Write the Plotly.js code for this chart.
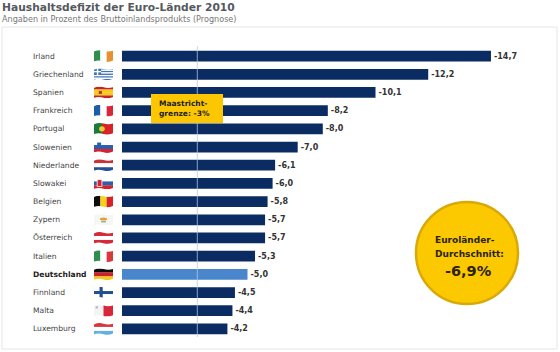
<!DOCTYPE html>
<html><head><meta charset="utf-8">
<script src="https://cdn.plot.ly/plotly-3.0.1.min.js"></script>
<style>html,body{margin:0;padding:0;background:#fff}#c{width:560px;height:352px}</style>
</head><body><div id="c"></div>
<script>
const countries=["Irland","Griechenland","Spanien","Frankreich","Portugal","Slowenien","Niederlande","Slowakei","Belgien","Zypern","Österreich","Italien","Deutschland","Finnland","Malta","Luxemburg"];
const deficits=[-14.7,-12.2,-10.1,-8.2,-8.0,-7.0,-6.1,-6.0,-5.8,-5.7,-5.7,-5.3,-5.0,-4.5,-4.4,-4.2];
const highlighted="Deutschland";
const maastricht=-3;
const titleText="Haushaltsdefizit der Euro-Länder 2010";
const subtitleText="Angaben in Prozent des Bruttoinlandsprodukts (Prognose)";
const calloutText="Maastricht-<br>grenze: -3%";
const badgeLine1="Euroländer-";
const badgeLine2="Durchschnitt:";
const badgeValue="-6,9%";

const W=560,H=352,m={l:122,r:3,t:47,b:14};
const px=x=>(x-m.l)/(W-m.l-m.r), py=y=>1-(y-m.t)/(H-m.t-m.b);
const pxPerUnit=25.1;

function bands(cols,vertical){
  let s='';const n=cols.length;
  cols.forEach((c,i)=>{s+=vertical?`<rect x="${i*24/n}" y="0" width="${24/n+.2}" height="16" fill="${c}"/>`:`<rect x="0" y="${i*16/n}" width="24" height="${16/n+.2}" fill="${c}"/>`});
  return s;
}
const flagSvg={
 "Irland":bands(["#2f8f4e","#fff","#e8902e"],true),
 "Griechenland":bands(["#3f74b5","#fff","#3f74b5","#fff","#3f74b5","#fff","#3f74b5","#fff","#3f74b5"])+'<rect width="9" height="9" fill="#3f74b5"/><rect x="3.6" width="1.8" height="9" fill="#fff"/><rect y="3.6" width="9" height="1.8" fill="#fff"/>',
 "Spanien":bands(["#c8202a","#f6c81e","#f6c81e","#c8202a"])+'<rect x="6" y="6" width="4" height="4" fill="#a8401c"/>',
 "Frankreich":bands(["#1f5ba8","#fff","#d8283a"],true),
 "Portugal":'<rect width="24" height="16" fill="#d8202a"/><rect width="10" height="16" fill="#1f7a3c"/><circle cx="10" cy="8" r="3.6" fill="#f0c830"/>',
 "Slowenien":bands(["#fff","#2b5fb0","#d8202a"])+'<rect x="4" y="2" width="5" height="6" fill="#2b5fb0"/>',
 "Niederlande":bands(["#c8303a","#fff","#274f98"]),
 "Slowakei":bands(["#fff","#2b5fb0","#d8202a"])+'<rect x="4" y="3" width="6" height="9" fill="#d8202a" stroke="#fff"/>',
 "Belgien":bands(["#111","#f6d21e","#d8202a"],true),
 "Zypern":'<rect width="24" height="16" fill="#f6f6f2"/><ellipse cx="12" cy="7" rx="4.5" ry="2" fill="#e0a040"/><rect x="9" y="10" width="6" height="1.4" fill="#7a9a50"/>',
 "Österreich":bands(["#d8283a","#fff","#d8283a"]),
 "Italien":bands(["#2f8f4e","#fff","#d8383a"],true),
 "Deutschland":bands(["#111","#c8202a","#f6c81e"]),
 "Finnland":'<rect width="24" height="16" fill="#fff"/><rect y="6" width="24" height="4" fill="#23508f"/><rect x="7" width="4" height="16" fill="#23508f"/>',
 "Malta":bands(["#f4f4f4","#d8283a"],true)+'<rect x="2" y="2" width="3" height="3" fill="#bbb"/>',
 "Luxemburg":bands(["#d8383a","#fff","#62b0e4"])
};
const flagUri=name=>'data:image/svg+xml;charset=utf-8,'+encodeURIComponent(
 `<svg xmlns="http://www.w3.org/2000/svg" width="24" height="16" viewBox="0 0 24 16" preserveAspectRatio="none"><defs><clipPath id="w"><path d="M0 2 Q6 -1 12 1 T24 1 L24 14 Q18 17 12 15 T0 15 Z"/></clipPath><filter id="b"><feGaussianBlur stdDeviation="0.35"/></filter></defs><g clip-path="url(#w)" filter="url(#b)">${flagSvg[name]}</g></svg>`);

const images=countries.map(c=>({source:flagUri(c),xref:'paper',yref:'y',x:px(94),y:c,sizex:19/(W-m.l-m.r),sizey:0.66,xanchor:'left',yanchor:'middle',sizing:'stretch',layer:'above'}));

const catAnnos=countries.map(c=>({xref:'paper',yref:'y',x:px(31),y:c,xanchor:'left',yanchor:'middle',showarrow:false,
  text:c===highlighted?`<b>${c}</b>`:c,font:{family:'DejaVu Sans',size:7.6,color:c===highlighted?'#222':'#444'}}));

const badgeFont={family:'DejaVu Sans',size:9,color:'#2a2310'};
const annotations=[
 ...catAnnos,
 {xref:'paper',yref:'paper',x:px(0),y:py(7),xanchor:'left',yanchor:'middle',showarrow:false,text:`<b>${titleText}</b>`,font:{family:'DejaVu Sans',size:10.7,color:'#55595e'}},
 {xref:'paper',yref:'paper',x:px(0),y:py(19.5),xanchor:'left',yanchor:'middle',showarrow:false,text:subtitleText,font:{family:'DejaVu Sans',size:8.1,color:'#777'}},
 {xref:'paper',yref:'paper',x:px(157),y:py(108),xanchor:'left',yanchor:'middle',align:'left',showarrow:false,text:`<b>${calloutText}</b>`,font:{family:'DejaVu Sans',size:7.5,color:'#222'}},
 {xref:'paper',yref:'paper',x:px(465),y:py(240),xanchor:'center',yanchor:'middle',showarrow:false,text:`<b>${badgeLine1}</b>`,font:badgeFont},
 {xref:'paper',yref:'paper',x:px(469),y:py(253.5),xanchor:'center',yanchor:'middle',showarrow:false,text:`<b>${badgeLine2}</b>`,font:badgeFont},
 {xref:'paper',yref:'paper',x:px(468),y:py(270.5),xanchor:'center',yanchor:'middle',showarrow:false,text:`<b>${badgeValue}</b>`,font:{family:'DejaVu Sans',size:14.5,color:'#2a2310'}}
];

const shapes=[
 {type:'rect',xref:'paper',yref:'paper',layer:'below',x0:px(2),x1:px(557),y0:py(27),y1:py(349),fillcolor:'#fff',line:{color:'#e6e6e6',width:1}},
 {type:'line',xref:'x',yref:'paper',layer:'above',x0:maastricht,x1:maastricht,y0:py(46),y1:py(337),line:{color:'rgba(180,200,228,0.75)',width:1}},
 {type:'rect',xref:'paper',yref:'paper',layer:'above',x0:px(151),x1:px(223),y0:py(94),y1:py(123),fillcolor:'#fcc600',line:{width:0}},
 {type:'circle',xref:'paper',yref:'paper',layer:'above',x0:px(416),x1:px(518),y0:py(202),y1:py(304),fillcolor:'#fcc800',line:{color:'#d9a90a',width:2.5}}
];

const trace={type:'bar',orientation:'h',y:countries,x:deficits,width:0.59,
 marker:{color:countries.map(c=>c===highlighted?'#4a86cc':'#0b2c63'),line:{width:0}},
 texttemplate:'%{x:.1f}',textposition:'outside',cliponaxis:false,
 textfont:{family:'DejaVu Sans',size:8,color:'#333',weight:'bold'},hoverinfo:'skip'};

Plotly.newPlot('c',[trace],{
 width:W,height:H,margin:m,showlegend:false,separators:',.',
 paper_bgcolor:'#fff',plot_bgcolor:'rgba(0,0,0,0)',
 xaxis:{range:[0,-(W-m.l-m.r)/pxPerUnit],visible:false,fixedrange:true},
 yaxis:{type:'category',categoryorder:'array',categoryarray:countries,autorange:false,range:[countries.length-0.5,-0.5],visible:false,fixedrange:true},
 shapes,annotations,images
},{displayModeBar:false,staticPlot:true});
</script></body></html>
